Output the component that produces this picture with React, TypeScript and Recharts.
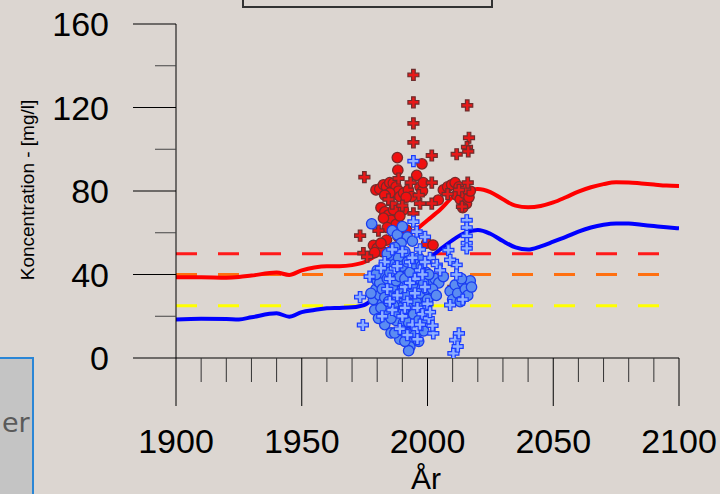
import React from 'react'
import {
    ComposedChart,
    Line,
    Scatter,
    XAxis,
    YAxis,
    ReferenceLine,
} from 'recharts'

// model curves (year, mg/l)
const years = [
    1900, 1910, 1920, 1925, 1930, 1940, 1945, 1950, 1955, 1960, 1965, 1970, 1975, 1980,
    1985, 1990, 1995, 2000, 2005, 2010, 2015, 2020, 2025, 2030, 2035, 2040, 2045, 2050,
    2055, 2060, 2065, 2070, 2075, 2080, 2085, 2090, 2095, 2100,
]
const redLine = [
    38.7, 38.7, 38.5, 38.8, 39.5, 40.9, 39.8, 42, 43.4, 44, 44, 44.5, 46, 49.5,
    53, 57, 61, 66, 71, 77, 80, 81, 79.5, 76, 73, 72.2, 72.8, 74.5,
    77, 79.7, 81.8, 83.3, 84.2, 84.1, 83.6, 83.1, 82.6, 82.4,
]
const blueLine = [
    18.5, 18.8, 18.7, 18.5, 19.5, 21.4, 19.8, 22, 23, 23.8, 24, 24.3, 25.5, 29.5,
    33, 37, 42, 47, 52, 56.5, 60, 61.3, 59.5, 56, 53, 52, 53.5, 55.7,
    58, 60.5, 62.5, 63.8, 64.4, 64.4, 63.8, 63.2, 62.6, 62.1,
]

// limit values
const limitRed = 50
const limitOrange = 40
const limitYellow = 25

// measurements [year, value]
const redCircles = [
    [1988, 96], [1988.2, 90], [1997.8, 93], [1995.7, 87.5],
    [1979.5, 80.5], [1981, 81], [1982.5, 83], [1983.7, 82], [1985, 84], [1986.4, 83.7],
    [1987.5, 82], [1988.5, 80], [1985, 79], [1983, 78], [1989, 77.3], [1990.5, 79],
    [1992.4, 80.5], [1993.7, 77.3], [1997, 82], [1991.5, 77],
    [1981.5, 72], [1983, 70], [1984.5, 68.5], [1986.5, 71], [1985.5, 66], [1982.5, 67],
    [1990.4, 71], [1987.5, 64], [1984, 62.5], [1989, 68],
    [1991.7, 61.3], [1988.4, 58.1], [1983.7, 56.5], [1978.5, 54], [1980, 52.5], [1982, 51],
    [1979, 50.5], [1981.5, 55], [1999.7, 55], [2002.2, 54.1],
    [2004.3, 75.7], [2006.3, 80.5], [2008, 82], [2009.6, 83], [2011, 84], [2012.5, 82],
    [2011.6, 78], [2013, 76], [2014.5, 79], [2015.5, 74], [2016.5, 77], [2017, 80],
    [2014, 72], [1998, 80], [1998.3, 84],
]
const redPlus = [
    [1994.4, 135.6], [1994.4, 122.5], [1994.4, 112.4], [1994.4, 103.3], [2015.8, 121],
    [2016.5, 105.5], [2015.7, 101], [2016.2, 99], [2011.6, 97.6], [2001.7, 97],
    [1974.9, 86.6], [2001.7, 84], [1997, 74], [1994.4, 69.3], [1996.5, 78], [1993.3, 84],
    [2015, 81.3], [2013.7, 72.5], [2001.7, 74], [1973.2, 58.6], [1974.5, 50.2], [1976, 48.5],
    [2010.3, 34], [1986, 74], [1984.5, 76], [1988.5, 86], [1990, 73], [2012.5, 80.5],
    [2016, 84], [2008, 78.5], [1980.5, 61], [1987, 60],
]
const blueCircles = [
    [1977.8, 64.3], [1986, 61], [1988, 59], [1990, 63], [1992, 58], [1989.5, 55],
    [1979, 23], [1978.5, 28], [1979.5, 33], [1980, 37], [1981, 30], [1982, 26], [1982.5, 40],
    [1983.5, 35], [1984, 44], [1984.5, 21], [1985, 31], [1986, 47], [1986.5, 38], [1987, 27],
    [1987.5, 18], [1988, 33], [1988.5, 42], [1989, 50], [1989.5, 24], [1990, 36], [1990.5, 29],
    [1991, 45], [1991.5, 14], [1992, 22], [1992.5, 39], [1993, 32], [1993.5, 10], [1993, 5.4],
    [1992.5, 3.5], [1994, 26], [1994.5, 43], [1995, 18], [1995.5, 35], [1996, 29], [1996.5, 48],
    [1997, 23], [1997.5, 38], [1998, 31], [1998.5, 13], [1999, 27], [1999.5, 41], [2000, 34],
    [2001, 37], [2001.5, 30], [2003, 38], [2004.5, 36], [2006.3, 39], [2009, 32], [2010, 28],
    [2011, 35], [2012, 31], [2013, 27], [2014, 36], [2015, 33], [2016, 30], [2017, 37],
    [2017.5, 34], [2013.5, 38], [1983, 16], [1985.5, 12], [1989, 9], [1990.5, 17], [1980.5, 19],
    [1977.5, 31], [1984, 50], [1987, 53], [1991, 51], [1994, 56], [1996.5, 8], [1994.8, 13.5],
    [1980, 42], [1981, 36], [1981.5, 24], [1982, 33], [1983, 29], [1983.5, 45], [1984, 38],
    [1984.5, 27], [1985, 41], [1985.5, 19], [1986, 34], [1986.5, 25], [1987, 45], [1987.5, 37],
    [1988, 22], [1988.5, 48], [1989, 39], [1989.5, 31], [1990, 44], [1990.5, 23], [1991, 38],
    [1991.5, 30], [1992, 46], [1992.5, 17], [1993, 41], [1993.5, 25], [1994, 35], [1994.5, 21],
    [1995, 45], [1995.5, 27], [1996, 38], [1996.5, 18], [1997, 31], [1997.5, 44], [1998, 24],
    [1998.5, 36], [1999, 19], [1999.5, 33], [2000, 28], [2000.5, 40], [2002, 33], [1991, 8],
    [1992, 12], [1995, 11], [1990, 13], [1987, 12], [1979.5, 40], [2003.5, 30],
]
const bluePlus = [
    [1994.4, 94.3], [1994.4, 65.3], [1995.7, 60.5], [2015.6, 66], [2015.6, 62.5], [2015.6, 58.5],
    [2015.6, 55], [2015.6, 52.5], [2008.3, 51.7], [2011.6, 44.6], [2003.7, 44.6], [2009, 47],
    [1973.2, 29.2], [1974.3, 15.8], [2002.3, 11.8], [2002, 15.5], [2011, 8.6], [2010.3, 2.2],
    [2012.5, 11.8], [2012, 5.5], [2009, 25.4], [1983, 46], [1985, 38], [1987, 43], [1988, 30],
    [1990, 20], [1991, 34], [1992, 27], [1993, 46], [1994, 16], [1995, 38], [1996, 24], [1997, 42],
    [1998, 21], [1999, 34], [2000, 26], [1986, 23], [1989, 14], [1992, 11], [1984, 33],
    [1981.5, 43], [1997, 52], [1999, 58], [2001, 48], [2005, 42], [1977, 39], [1996, 14],
    [2000.5, 19], [2014, 28], [2011.5, 40],
    [1982, 20], [1985, 27], [1988, 44], [1991, 24], [1993, 36], [1995, 31], [1997, 16],
    [1998, 40], [1999, 46], [2001, 22], [1990, 51], [1994, 48], [1986, 52], [1996, 9],
]

const xTicks = [
    1900, 1910, 1920, 1930, 1940, 1950, 1960, 1970, 1980, 1990, 2000,
    2010, 2020, 2030, 2040, 2050, 2060, 2070, 2080, 2090, 2100,
]
const yTicks = [0, 20, 40, 60, 80, 100, 120, 140, 160]

const lineData = years.map((year, i) => ({ year, red: redLine[i], blue: blueLine[i] }))
const toPts = (arr: number[][]) => arr.map(([year, v]) => ({ year, v }))

const BG = '#dcd6d1'
const FONT = '"Liberation Sans", Arial, sans-serif'
const AXIS_X = 176
const AXIS_Y = 358

const plusShape = (fill: string, stroke: string) => (props: any) => {
    const { cx, cy } = props
    if (cx == null || cy == null) return <g />
    const a = 5.5
    const w = 1.8
    const d = `M${cx - w},${cy - a}H${cx + w}V${cy - w}H${cx + a}V${cy + w}H${cx + w}V${cy + a}H${cx - w}V${cy + w}H${cx - a}V${cy - w}H${cx - w}Z`
    return <path d={d} fill={fill} stroke={stroke} strokeWidth={1.2} />
}

const circleShape = (fill: string, stroke: string) => (props: any) => {
    const { cx, cy } = props
    if (cx == null || cy == null) return <g />
    return <circle cx={cx} cy={cy} r={5.2} fill={fill} stroke={stroke} strokeWidth={1.3} />
}

const YTick = (props: any) => {
    const { y, payload } = props
    const major = payload.value % 40 === 0
    return (
        <g>
            <line x1={AXIS_X - (major ? 43 : 21)} x2={AXIS_X} y1={y} y2={y} stroke={major ? '#000' : '#444'} strokeWidth={1} />
            {major && (
                <text x={109} y={y} dy={12} textAnchor="end" fontSize={34} fontFamily={FONT} fill="#000">
                    {payload.value}
                </text>
            )}
        </g>
    )
}

const XTick = (props: any) => {
    const { x, payload } = props
    const major = payload.value % 50 === 0
    return (
        <g>
            <line x1={x} x2={x} y1={AXIS_Y} y2={major ? 406 : 382} stroke={major ? '#000' : '#333'} strokeWidth={1} />
            {major && (
                <text x={x} y={453} textAnchor="middle" fontSize={34} fontFamily={FONT} fill="#000">
                    {payload.value}
                </text>
            )}
        </g>
    )
}

export default function App() {
    return (
        <div style={{ position: 'absolute', left: 0, top: 0, width: 720, height: 494, background: BG, overflow: 'hidden' }}>
            <svg width={720} height={494} style={{ position: 'absolute', left: 0, top: 0 }}>
                <rect x={243} y={-10} width={249} height={17} fill={BG} stroke="#333" strokeWidth={2} />
                <rect x={-10} y={358} width={43} height={150} fill="#c4c4c4" stroke="#2a86d6" strokeWidth={2} />
                <text x={2} y={432} textAnchor="start" fontSize={27} fontFamily='"DejaVu Sans", sans-serif' fill="#5a5a5a">er</text>
                <text
                    transform="translate(34,190) rotate(-90)"
                    textAnchor="middle"
                    fontSize={19}
                    fontFamily={FONT}
                    fill="#000"
                >
                    Koncentration - [mg/l]
                </text>
                <text x={426} y={489} textAnchor="middle" fontSize={30} fontFamily={FONT} fill="#000">År</text>
            </svg>
            <div style={{ position: 'absolute', left: 0, top: 0 }}>
                <ComposedChart
                    width={720}
                    height={494}
                    data={lineData}
                    margin={{ top: 24, right: 41, bottom: 0, left: 0 }}
                >
                    <XAxis
                        type="number"
                        dataKey="year"
                        domain={[1900, 2100]}
                        ticks={xTicks}
                        interval={0}
                        height={136}
                        tickLine={false}
                        axisLine={{ stroke: '#000', strokeWidth: 1 }}
                        tick={<XTick />}
                        allowDataOverflow
                    />
                    <YAxis
                        type="number"
                        domain={[0, 160]}
                        ticks={yTicks}
                        interval={0}
                        width={176}
                        tickLine={false}
                        axisLine={{ stroke: '#000', strokeWidth: 1 }}
                        tick={<YTick />}
                        allowDataOverflow
                    />
                    <ReferenceLine y={limitRed} stroke="#ff1a1a" strokeWidth={3} strokeDasharray="21 21" />
                    <ReferenceLine y={limitOrange} stroke="#ff7010" strokeWidth={3} strokeDasharray="21 21" />
                    <ReferenceLine y={limitYellow} stroke="#ffff00" strokeWidth={3} strokeDasharray="21 21" />
                    <Line type="monotone" dataKey="red" stroke="#ff0000" strokeWidth={4} dot={false} isAnimationActive={false} />
                    <Line type="monotone" dataKey="blue" stroke="#0000ff" strokeWidth={4} dot={false} isAnimationActive={false} />
                    <Scatter data={toPts(redCircles)} dataKey="v" shape={circleShape('#f01010', '#7a2a2a')} isAnimationActive={false} />
                    <Scatter data={toPts(redPlus)} dataKey="v" shape={plusShape('#e81818', '#6e2e2e')} isAnimationActive={false} />
                    <Scatter data={toPts(blueCircles)} dataKey="v" shape={circleShape('#5b8cf2', '#1a3cf0')} isAnimationActive={false} />
                    <Scatter data={toPts(bluePlus)} dataKey="v" shape={plusShape('#8fb0ff', '#1a3cff')} isAnimationActive={false} />
                </ComposedChart>
            </div>
        </div>
    )
}
